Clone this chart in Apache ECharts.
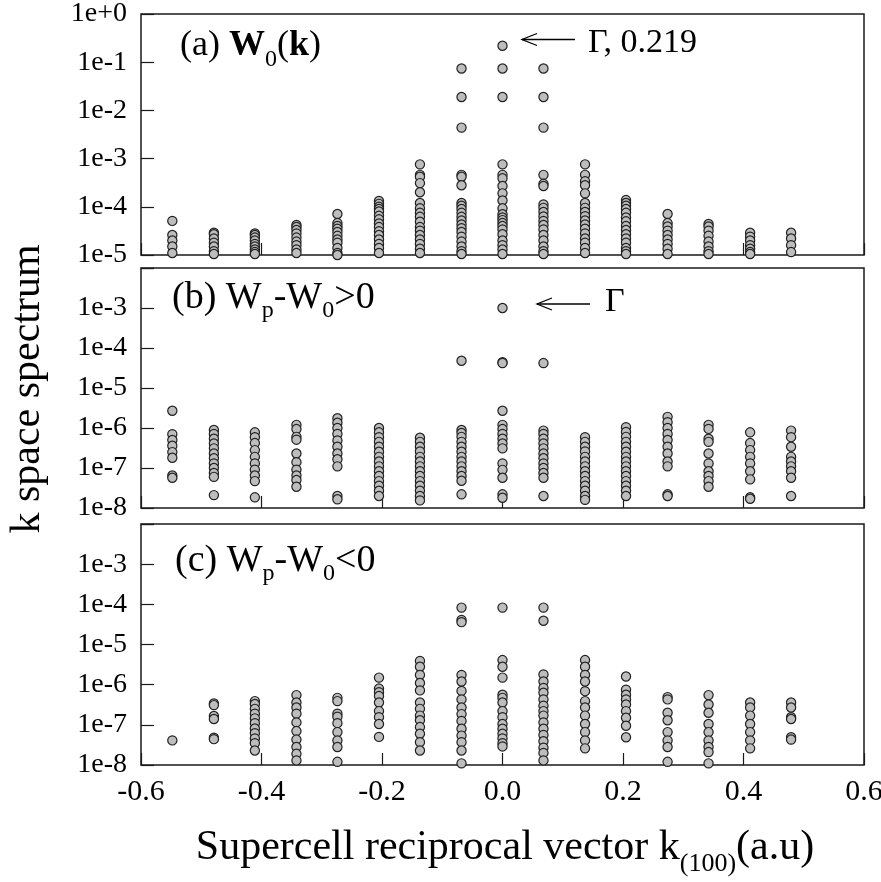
<!DOCTYPE html>
<html><head><meta charset="utf-8">
<script src="https://cdn.jsdelivr.net/npm/echarts@6/dist/echarts.min.js"></script>
<style>html,body{margin:0;padding:0;background:#fff}#c{width:881px;height:882px}</style>
</head><body><div id="c"></div>
<script>
const kValues = [-0.548, -0.479, -0.411, -0.342, -0.274, -0.205, -0.137, -0.068, 0, 0.068, 0.137, 0.205, 0.274, 0.342, 0.411, 0.479];

const w0Spectrum = [
  [5.1e-5, 2.6e-5, 2.0e-5, 1.5e-5, 1.1e-5],
  [2.9e-5, 2.7e-5, 2.2e-5, 1.8e-5, 1.5e-5, 1.2e-5, 1.05e-5],
  [2.8e-5, 2.6e-5, 2.3e-5, 2.0e-5, 1.7e-5, 1.5e-5, 1.3e-5, 1.15e-5, 1.05e-5],
  [4.2e-5, 3.8e-5, 3.3e-5, 2.8e-5, 2.3e-5, 1.9e-5, 1.6e-5, 1.3e-5, 1.1e-5],
  [7.1e-5, 4.6e-5, 4.0e-5, 3.5e-5, 3.0e-5, 2.5e-5, 2.1e-5, 1.8e-5, 1.4e-5, 1.1e-5, 1.0e-5],
  [1.32e-4, 1.15e-4, 1.0e-4, 9e-5, 8e-5, 6.5e-5, 5.5e-5, 4.5e-5, 3.8e-5, 3.1e-5, 2.6e-5, 2.1e-5, 1.7e-5, 1.4e-5, 1.1e-5],
  [7.6e-4, 4.6e-4, 4.2e-4, 3.1e-4, 2.0e-4, 1.2e-4, 9.3e-5, 7.5e-5, 6.2e-5, 4.9e-5, 3.8e-5, 3.2e-5, 2.6e-5, 2.1e-5, 1.7e-5, 1.35e-5, 1.1e-5],
  [7.4e-2, 1.9e-2, 4.4e-3, 4.6e-4, 4.2e-4, 2.8e-4, 1.2e-4, 1.05e-4, 9e-5, 7.5e-5, 6.2e-5, 5.2e-5, 4.3e-5, 3.6e-5, 3.0e-5, 2.4e-5, 1.9e-5, 1.5e-5, 1.2e-5, 1.05e-5],
  [0.219, 7.4e-2, 1.9e-2, 7.6e-4, 4.6e-4, 3.9e-4, 2.7e-4, 1.9e-4, 1.35e-4, 9.3e-5, 7e-5, 6e-5, 5.3e-5, 4.6e-5, 4.0e-5, 3.4e-5, 2.7e-5, 2.0e-5, 1.6e-5, 1.3e-5, 1.05e-5],
  [7.4e-2, 1.9e-2, 4.4e-3, 4.6e-4, 3.0e-4, 2.7e-4, 1.12e-4, 9.5e-5, 7.8e-5, 6.3e-5, 5.1e-5, 4.2e-5, 3.4e-5, 2.6e-5, 2.0e-5, 1.5e-5, 1.2e-5, 1.05e-5],
  [7.6e-4, 4.6e-4, 3.4e-4, 2.8e-4, 1.9e-4, 1.2e-4, 9.5e-5, 7.8e-5, 6.4e-5, 5.2e-5, 4.3e-5, 3.5e-5, 2.8e-5, 2.2e-5, 1.8e-5, 1.4e-5, 1.1e-5],
  [1.38e-4, 1.2e-4, 1.05e-4, 9e-5, 7.5e-5, 6e-5, 5e-5, 4e-5, 3.3e-5, 2.7e-5, 2.2e-5, 1.8e-5, 1.4e-5, 1.2e-5, 1.05e-5],
  [7.1e-5, 4.6e-5, 3.9e-5, 3.2e-5, 2.6e-5, 2.1e-5, 1.7e-5, 1.35e-5, 1.05e-5],
  [4.4e-5, 3.9e-5, 3.2e-5, 2.5e-5, 1.9e-5, 1.5e-5, 1.2e-5, 1.05e-5],
  [2.9e-5, 2.4e-5, 2.0e-5, 1.6e-5, 1.35e-5, 1.15e-5, 1.05e-5],
  [2.9e-5, 2.2e-5, 1.6e-5, 1.15e-5]
];

const wPlusSpectrum = [
  [2.7e-6, 7e-7, 5e-7, 3.6e-7, 2.5e-7, 1.8e-7, 6.5e-8, 5.7e-8],
  [8.9e-7, 7.1e-7, 5.4e-7, 4.1e-7, 3.1e-7, 2.3e-7, 1.75e-7, 1.3e-7, 1.0e-7, 7.5e-8, 6.0e-8, 2.1e-8],
  [7.8e-7, 5.9e-7, 4.2e-7, 2.8e-7, 1.9e-7, 1.3e-7, 9.1e-8, 6.5e-8, 4.7e-8, 1.85e-8],
  [1.2e-6, 9.4e-7, 6e-7, 5.1e-7, 2.3e-7, 1.4e-7, 9.1e-8, 6.5e-8, 5e-8, 3.4e-8],
  [1.75e-6, 1.35e-6, 1.0e-6, 7.1e-7, 4.9e-7, 3.4e-7, 2.3e-7, 1.65e-7, 1.1e-7, 2.0e-8, 1.65e-8],
  [1e-6, 7.8e-7, 5.9e-7, 4.5e-7, 3.4e-7, 2.55e-7, 1.9e-7, 1.45e-7, 1.1e-7, 8.3e-8, 6.3e-8, 4.7e-8, 3.6e-8, 2.7e-8, 2.0e-8],
  [5.7e-7, 4.5e-7, 3.4e-7, 2.6e-7, 1.9e-7, 1.45e-7, 1.1e-7, 8.3e-8, 6.3e-8, 4.7e-8, 3.6e-8, 2.7e-8, 2.0e-8, 1.55e-8],
  [4.8e-5, 8.9e-7, 7.5e-7, 6e-7, 4.5e-7, 3.4e-7, 2.55e-7, 1.9e-7, 1.45e-7, 1.1e-7, 8.3e-8, 6.3e-8, 4.8e-8, 2.2e-8],
  [1.0e-3, 4.4e-5, 4.2e-5, 2.7e-6, 1.2e-6, 9.4e-7, 7.1e-7, 5.4e-7, 4.1e-7, 3.1e-7, 1.3e-7, 9e-8, 5.7e-8, 2.2e-8, 1.8e-8],
  [4.2e-5, 8.6e-7, 7.1e-7, 5.4e-7, 4.1e-7, 3.1e-7, 2.3e-7, 1.75e-7, 1.3e-7, 1.0e-7, 7.5e-8, 5.7e-8, 2.0e-8],
  [5.9e-7, 4.5e-7, 3.4e-7, 2.6e-7, 1.9e-7, 1.45e-7, 1.1e-7, 8.3e-8, 6.3e-8, 4.7e-8, 3.6e-8, 2.7e-8, 2.0e-8, 1.6e-8],
  [1.05e-6, 8e-7, 6e-7, 4.5e-7, 3.4e-7, 2.55e-7, 1.9e-7, 1.45e-7, 1.1e-7, 8.3e-8, 6.3e-8, 4.7e-8, 3.6e-8, 2.7e-8, 2.0e-8],
  [1.9e-6, 1.4e-6, 1.0e-6, 7.1e-7, 5.0e-7, 3.4e-7, 2.3e-7, 1.45e-7, 1.1e-7, 2.2e-8, 2.0e-8],
  [1.2e-6, 9.5e-7, 5.4e-7, 4.5e-7, 2.3e-7, 1.3e-7, 8.3e-8, 6.3e-8, 4.7e-8, 3.4e-8],
  [7.8e-7, 4.2e-7, 2.8e-7, 1.9e-7, 1.3e-7, 8.3e-8, 5.2e-8, 1.85e-8, 1.7e-8],
  [8.6e-7, 5.9e-7, 3.4e-7, 1.9e-7, 1.45e-7, 1.1e-7, 8.3e-8, 5.7e-8, 2.0e-8]
];

const wMinusSpectrum = [
  [4.1e-8],
  [3.4e-7, 3.1e-7, 1.66e-7, 1.4e-7, 4.8e-8, 4.4e-8],
  [3.9e-7, 3.3e-7, 2.5e-7, 1.9e-7, 1.45e-7, 1.1e-7, 8.1e-8, 6.2e-8, 4.6e-8, 3.5e-8, 2.3e-8],
  [5.5e-7, 3.6e-7, 2.7e-7, 1.9e-7, 1.15e-7, 7e-8, 4.3e-8, 2.8e-8, 1.9e-8, 1.3e-8],
  [4.7e-7, 3.9e-7, 1.9e-7, 1.6e-7, 1.1e-7, 6.6e-8, 4.1e-8, 2.8e-8, 1.2e-8],
  [1.5e-6, 8e-7, 6.5e-7, 5.2e-7, 3.6e-7, 2.2e-7, 1.55e-7, 1.05e-7, 5e-8],
  [3.9e-6, 2.8e-6, 1.75e-6, 1.1e-6, 7.2e-7, 3.6e-7, 2.5e-7, 1.7e-7, 1.3e-7, 8.8e-8, 6e-8, 3.7e-8, 2.3e-8],
  [8.3e-5, 4.1e-5, 3.6e-5, 1.75e-6, 1.2e-6, 7e-7, 4.3e-7, 2.7e-7, 1.85e-7, 1.25e-7, 8e-8, 5.4e-8, 3.7e-8, 2.3e-8, 1.1e-8],
  [8.3e-5, 4.1e-6, 2.8e-6, 1.5e-6, 5.6e-7, 4.7e-7, 3.6e-7, 2.2e-7, 1.55e-7, 1.05e-7, 8e-8, 6e-8, 4.6e-8, 3.5e-8, 2.9e-8],
  [8.3e-5, 3.9e-5, 1.8e-6, 1.2e-6, 8.3e-7, 6.3e-7, 4.3e-7, 3.0e-7, 2.2e-7, 1.7e-7, 1.15e-7, 8e-8, 5.6e-8, 3.9e-8, 2.7e-8, 2.0e-8, 1.3e-8],
  [4.1e-6, 2.8e-6, 1.75e-6, 1.2e-6, 6.9e-7, 3.9e-7, 2.7e-7, 1.7e-7, 1.05e-7, 6.6e-8, 4.1e-8, 2.6e-8],
  [1.6e-6, 7.5e-7, 5.6e-7, 4.3e-7, 3.2e-7, 2.2e-7, 1.5e-7, 9.5e-8, 4.9e-8],
  [4.9e-7, 4.3e-7, 2.0e-7, 1.3e-7, 6.6e-8, 4.1e-8, 2.8e-8, 1.2e-8],
  [5.5e-7, 3.2e-7, 2.0e-7, 1.05e-7, 6.6e-8, 4.1e-8, 2.8e-8, 2.1e-8, 1.1e-8],
  [3.6e-7, 2.7e-7, 1.7e-7, 1.05e-7, 6.6e-8, 4.1e-8, 2.6e-8],
  [3.6e-7, 2.7e-7, 1.55e-7, 1.4e-7, 4.9e-8, 4.3e-8]
];

const xTickLabels = ['-0.6', '-0.4', '-0.2', '0.0', '0.2', '0.4', '0.6'];
const yTickLabelsA = ['1e-5', '1e-4', '1e-3', '1e-2', '1e-1', '1e+0'];
const yTickLabelsBC = ['1e-8', '1e-7', '1e-6', '1e-5', '1e-4', '1e-3', ''];
const yRangeA = [1e-5, 1];
const yRangeBC = [1e-8, 1e-2];

const FONT = "'Liberation Serif', 'Times New Roman', serif";

function toPoints(spec) {
  const out = [];
  spec.forEach((col, i) => col.forEach(v => out.push([kValues[i], v])));
  return out;
}
function yFmtFor(labels, minVal) {
  const e0 = Math.round(Math.log10(minVal));
  return v => {
    const idx = Math.round(Math.log10(v)) - e0;
    return labels[idx] || '';
  };
}
function xFmt(v) {
  const idx = Math.round((v + 0.6) / 0.2);
  return xTickLabels[idx] || '';
}

const grids = [
  { left: 141, top: 14, width: 723, height: 241 },
  { left: 141, top: 268, width: 723, height: 240 },
  { left: 141, top: 524, width: 723, height: 241 }
].map(g => Object.assign(g, { show: true, borderColor: '#1a1a1a', borderWidth: 1.5, backgroundColor: 'transparent', containLabel: false, outerBoundsMode: 'none' }));

const xAxes = [0, 1, 2].map(i => ({
  type: 'value', gridIndex: i, min: -0.6, max: 0.6, interval: 0.2, position: 'bottom',
  axisLine: { show: false, onZero: false },
  axisTick: { show: true, inside: true, length: 12, lineStyle: { color: '#1a1a1a', width: 1.2 } },
  splitLine: { show: false },
  axisLabel: { show: i === 2, margin: 12, fontSize: 30, fontFamily: FONT, color: '#000', formatter: xFmt, hideOverlap: false }
}));

const yAxes = [0, 1, 2].map(i => ({
  type: 'log', logBase: 10, gridIndex: i, position: 'left',
  min: i === 0 ? yRangeA[0] : yRangeBC[0],
  max: i === 0 ? yRangeA[1] : yRangeBC[1],
  axisLine: { show: false, onZero: false },
  axisTick: { show: true, inside: true, length: 13, lineStyle: { color: '#1a1a1a', width: 1.2 } },
  minorTick: { show: false },
  splitLine: { show: false },
  axisLabel: { margin: 14, fontSize: 28, fontFamily: FONT, color: '#000', hideOverlap: false,
    formatter: i === 0 ? yFmtFor(yTickLabelsA, yRangeA[0]) : yFmtFor(yTickLabelsBC, yRangeBC[0]) }
}));

const seriesStyle = {
  type: 'scatter', symbol: 'circle', symbolSize: 9.2, clip: false,
  itemStyle: { color: '#bdbdbd', borderColor: '#202020', borderWidth: 1.2, opacity: 1 },
  emphasis: { disabled: true }
};

const series = [w0Spectrum, wPlusSpectrum, wMinusSpectrum].map((spec, i) =>
  Object.assign({}, seriesStyle, { xAxisIndex: i, yAxisIndex: i, data: toPoints(spec) }));

const mainRich = (size, sub) => ({
  n: { fontSize: size, fontFamily: FONT, color: '#000', lineHeight: 44, verticalAlign: 'top' },
  b: { fontSize: size, fontFamily: FONT, fontWeight: 'bold', color: '#000', lineHeight: 44, verticalAlign: 'top' },
  s: { fontSize: sub, fontFamily: FONT, color: '#000', verticalAlign: 'bottom' }
});

const graphic = [
  { type: 'text', left: 180, top: 28, style: { text: '{n|(a) }{b|W}{s|0}{n|(}{b|k}{n|)}', rich: mainRich(36, 24) } },
  { type: 'text', left: 172, top: 279, style: { text: '{n|(b) W}{s|p}{n|-W}{s|0}{n|>0}', rich: mainRich(38, 24) } },
  { type: 'text', left: 175, top: 542, style: { text: '{n|(c) W}{s|p}{n|-W}{s|0}{n|<0}', rich: mainRich(38, 24) } },
  // arrows
  { type: 'line', shape: { x1: 522, y1: 39.5, x2: 575, y2: 39.5 }, style: { stroke: '#000', lineWidth: 1.3 } },
  { type: 'polyline', shape: { points: [[537, 33.5], [522, 39.5], [537, 45.5]] }, style: { stroke: '#000', lineWidth: 1.3, fill: null } },
  { type: 'text', x: 588, y: 43, style: { text: 'Γ, 0.219', fontSize: 34, fontFamily: FONT, fill: '#000', verticalAlign: 'middle', align: 'left' } },
  { type: 'line', shape: { x1: 537, y1: 304, x2: 590, y2: 304 }, style: { stroke: '#000', lineWidth: 1.3 } },
  { type: 'polyline', shape: { points: [[552, 298], [537, 304], [552, 310]] }, style: { stroke: '#000', lineWidth: 1.3, fill: null } },
  { type: 'text', x: 605, y: 302, style: { text: 'Γ', fontSize: 34, fontFamily: FONT, fill: '#000', verticalAlign: 'middle', align: 'left' } },
  // axis titles
  { type: 'text', x: 28, y: 389, rotation: Math.PI / 2, style: { text: 'k space spectrum', fontSize: 42, fontFamily: FONT, fill: '#000', align: 'center', verticalAlign: 'middle' } },
  { type: 'text', x: 505, y: 852, style: {
      text: '{m|Supercell reciprocal vector k}{s|(100)}{m|(a.u)}', align: 'center', verticalAlign: 'middle',
      rich: {
        m: { fontSize: 42, fontFamily: FONT, color: '#000', lineHeight: 50, verticalAlign: 'top' },
        s: { fontSize: 26, fontFamily: FONT, color: '#000', verticalAlign: 'bottom' }
      } } }
];

const chart = echarts.init(document.getElementById('c'), null, { renderer: 'canvas' });
chart.setOption({
  animation: false,
  backgroundColor: '#fff',
  grid: grids, xAxis: xAxes, yAxis: yAxes, series: series, graphic: graphic
});
</script></body></html>
